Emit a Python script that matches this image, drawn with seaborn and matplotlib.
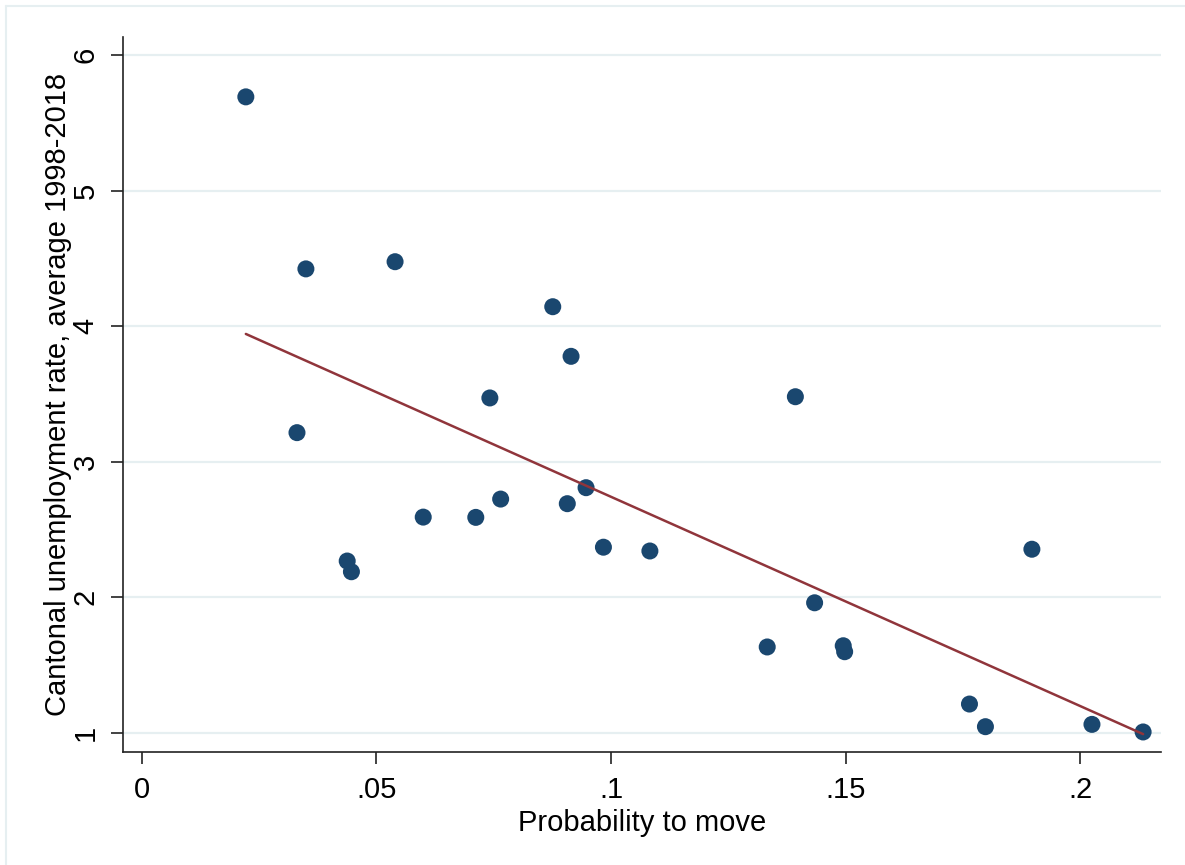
import matplotlib
matplotlib.use("Agg")
import matplotlib.pyplot as plt
from matplotlib.lines import Line2D
import numpy as np
import pandas as pd
import seaborn as sns

# Probability to move and average unemployment rate (1998-2018), one row per canton
prob_move = [0.0222, 0.0350, 0.0540, 0.0331, 0.0438, 0.0447, 0.0600, 0.0712,
             0.0742, 0.0765, 0.0876, 0.0915, 0.0907, 0.0947, 0.0984, 0.1083,
             0.1393, 0.1333, 0.1434, 0.1495, 0.1498, 0.1764, 0.1798, 0.1897,
             0.2025, 0.2134]
unemployment = [5.691, 4.422, 4.475, 3.214, 2.267, 2.188, 2.591, 2.589,
                3.470, 2.724, 4.143, 3.777, 2.690, 2.808, 2.369, 2.341,
                3.479, 1.633, 1.959, 1.642, 1.598, 1.212, 1.045, 2.354,
                1.062, 1.006]

x_ticks = [0, 0.05, 0.1, 0.15, 0.2]
x_tick_labels = ["0", ".05", ".1", ".15", ".2"]
y_ticks = [1, 2, 3, 4, 5, 6]
y_tick_labels = ["1", "2", "3", "4", "5", "6"]

df = pd.DataFrame({"prob_move": prob_move, "unemployment": unemployment})

sns.set_theme(style="white")
plt.rcParams["font.family"] = ["Liberation Sans", "DejaVu Sans"]

navy = "#1a476f"
maroon = "#90353b"
grid_col = "#e6eff1"

fig = plt.figure(figsize=(11.85, 8.65), dpi=100)
ax = fig.add_axes([0.1035, 0.1306, 0.8762, 0.8270])

sns.regplot(data=df, x="prob_move", y="unemployment", ax=ax, ci=None,
            scatter_kws=dict(s=150, color=navy, alpha=1, edgecolor="none", zorder=3),
            line_kws=dict(color=maroon, lw=1.8, zorder=4))

ax.set_xlim(-0.00405, 0.2172)
ax.set_ylim(0.858, 6.135)
ax.set_xticks(x_ticks)
ax.set_xticklabels(x_tick_labels)
ax.set_yticks(y_ticks)
ax.set_yticklabels(y_tick_labels, rotation=90, va="center")

ax.yaxis.grid(True, color=grid_col, lw=1.6)
ax.xaxis.grid(False)
ax.set_axisbelow(True)

for side in ("top", "right"):
    ax.spines[side].set_visible(False)
for side in ("left", "bottom"):
    ax.spines[side].set_color("#222222")
    ax.spines[side].set_linewidth(1.2)

ax.tick_params(axis="both", which="major", direction="out", length=8.5,
               width=1.2, color="#222222", labelsize=21, labelcolor="black",
               bottom=True, left=True)
ax.tick_params(axis="x", pad=9)
ax.tick_params(axis="y", pad=8)

ax.set_xlabel("Probability to move", fontsize=21, color="black", labelpad=3)
ax.set_ylabel("Cantonal unemployment rate, average 1998-2018", fontsize=21,
              color="black", labelpad=0)

# Light outer frame of the graph region
fig.add_artist(Line2D([6 / 1185, 1.0], [1 - 6 / 865, 1 - 6 / 865],
                      transform=fig.transFigure, color=grid_col, lw=1.5))
fig.add_artist(Line2D([6 / 1185, 6 / 1185], [0.0, 1 - 6 / 865],
                      transform=fig.transFigure, color=grid_col, lw=1.5))

fig.savefig("out.png", dpi=100, facecolor="white")
